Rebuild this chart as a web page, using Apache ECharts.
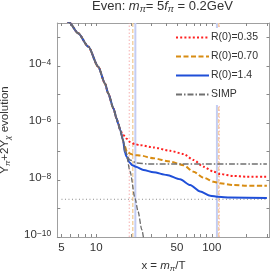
<!DOCTYPE html>
<html><head><meta charset="utf-8">
<script src="https://cdn.jsdelivr.net/npm/echarts@6/dist/echarts.min.js"></script>
<style>html,body{margin:0;padding:0;background:#fff}#c{width:274px;height:278px}</style>
</head><body><div id="c"></div>
<script>
// ---- data (x = m/T, y = Y) ----
const xRange = [4.6, 316];
const yRange = [1e-10, 3.16e-3];
const xTickLabels = [5, 10, 50, 100];
const xTicks = [5,6,7,8,9,10,20,30,40,50,60,70,80,90,100,200,300];
const yTickLabels = [-10, -8, -6, -4];
const yTicks = [-10,-9,-8,-7,-6,-5,-4,-3];

const commonX = [5, 5.8, 6.98, 8.53, 10.4, 11.9, 12.7, 14.1, 15.0, 15.5, 16.1];
const commonY = [6.3e-3, 3.4e-3, 1.38e-3, 4.7e-4, 9.3e-5, 2.4e-5, 1.07e-5, 3.2e-6, 1.41e-6, 9.3e-7, 5.75e-7];

const redX = [16.6, 17.1, 18.3, 19.6, 21.5, 23.9, 31.3, 43.6, 56.9, 69.5, 84.8, 103.5, 118, 154, 200, 300];
const redY = [4.6e-7, 3.8e-7, 2.8e-7, 2.14e-7, 1.8e-7, 1.66e-7, 1.38e-7, 1.05e-7, 8.1e-8, 5.0e-8, 2.9e-8, 1.95e-8, 1.62e-8, 1.38e-8, 1.3e-8, 1.29e-8];

const orangeX = [16.6, 17.4, 18.4, 20, 21.7, 23.9, 31.3, 43.6, 56.9, 69.5, 84.8, 103.5, 118, 154, 200, 300];
const orangeY = [3.6e-7, 1.8e-7, 9.8e-8, 8.1e-8, 7.4e-8, 7.2e-8, 5.75e-8, 4.4e-8, 3.3e-8, 1.95e-8, 1.2e-8, 8.7e-9, 7.6e-9, 6.6e-9, 6.3e-9, 6.2e-9];

const blueX = [17.1, 17.7, 18.4, 19.3, 20.5, 22, 25.6, 31.3, 40.8, 53.2, 65, 79.4, 97, 114, 144, 300];
const blueY = [2.4e-7, 9.0e-8, 6.3e-8, 4.2e-8, 3.3e-8, 2.9e-8, 2.24e-8, 1.86e-8, 1.48e-8, 1.05e-8, 6.6e-9, 3.9e-9, 2.8e-9, 2.57e-9, 2.4e-9, 2.35e-9];

const simpX = [17.1, 17.7, 19.6, 22.4, 28, 300];
const simpY = [2.4e-7, 9.5e-8, 5.0e-8, 3.9e-8, 3.63e-8, 3.63e-8];

const eqX = [17.1, 18, 19.6, 21.7, 23, 24.8, 26];
const eqY = [2.4e-7, 1.05e-7, 2.0e-8, 2.2e-9, 7.9e-10, 1.8e-10, 6.3e-11];

const refLineX = [5, 300];
const refLineY = [2.1e-9, 2.1e-9];

const vLinesX = [19.3, 20.7, 21.8, 110.8, 114.5, 116];
const vLineKinds = ['r', 'o', 'b', 'b', 'o', 'r'];

const names = ['R(0)=0.35', 'R(0)=0.70', 'R(0)=1.4', 'SIMP'];

// ---- build ----
const L = Math.log10;
const pts = (xs, ys) => xs.map((x, i) => [L(x), L(ys[i])]);
const withCommon = (xs, ys) => pts(commonX.concat(xs), commonY.concat(ys));

const vStyles = {
  r: {color: '#f6b0b0', width: 1, type: [1.5, 2]},
  o: {color: '#f3d3a6', width: 1.5, type: [4, 2]},
  b: {color: '#c3cdf3', width: 2, type: 'solid'}
};
const smooth = {smooth: 0.25, smoothMonotone: 'x'};

const series = [];
vLinesX.forEach((x, i) => {
  series.push({type: 'line', silent: true, symbol: 'none', z: 1,
    data: [[L(x), L(yRange[0])], [L(x), L(yRange[1])]],
    lineStyle: vStyles[vLineKinds[i]]});
});
series.push({type: 'line', symbol: 'none', silent: true, z: 2, data: pts(refLineX, refLineY),
  lineStyle: {color: '#8a8a8a', width: 1, type: [1, 2.5]}});
series.push(Object.assign({name: names[0], type: 'line', symbol: 'none', z: 3, data: withCommon(redX, redY),
  lineStyle: {color: '#ff2020', width: 2, type: [2, 2.2]}, itemStyle: {color: '#ff2020'}}, smooth));
series.push(Object.assign({name: names[1], type: 'line', symbol: 'none', z: 3, data: withCommon(orangeX, orangeY),
  lineStyle: {color: '#d88c12', width: 2, type: [5, 2.5]}, itemStyle: {color: '#d88c12'}}, smooth));
series.push(Object.assign({name: names[2], type: 'line', symbol: 'none', z: 3, data: withCommon(blueX, blueY),
  lineStyle: {color: '#1f4fd8', width: 2, type: 'solid'}, itemStyle: {color: '#1f4fd8'}}, smooth));
series.push(Object.assign({name: names[3], type: 'line', symbol: 'none', z: 3, data: withCommon(simpX, simpY),
  lineStyle: {color: '#707070', width: 1.5, type: [6, 2, 1.5, 2]}, itemStyle: {color: '#707070'}}, smooth));
series.push(Object.assign({type: 'line', symbol: 'none', silent: true, z: 3, data: withCommon(eqX, eqY),
  lineStyle: {color: '#6a6a6a', width: 1.3, type: [5, 2]}}, smooth));

const FONT = 'Liberation Sans, Arial, sans-serif';
const frame = {show: true, lineStyle: {color: '#a0a0a0', width: 1}};
const supRich = {
  b: {fontSize: 11.5, fontFamily: FONT, color: '#333', lineHeight: 12, padding: [4, 0, 0, 0], verticalAlign: 'bottom'},
  s: {fontSize: 8.5, fontFamily: FONT, color: '#333', lineHeight: 9, verticalAlign: 'top'}
};
const subRich = (fs) => ({
  n: {fontSize: fs, fontFamily: FONT, fontWeight: 'normal', color: '#333', lineHeight: fs + 1, padding: [0, 0, 2, 0], verticalAlign: 'top'},
  i: {fontSize: fs, fontFamily: FONT, fontWeight: 'normal', fontStyle: 'italic', color: '#333', lineHeight: fs + 1, padding: [0, 0, 2, 0], verticalAlign: 'top'},
  sub: {fontSize: fs * 0.7, fontFamily: FONT, fontWeight: 'normal', fontStyle: 'italic', color: '#333', lineHeight: fs * 0.7 + 1, verticalAlign: 'bottom'}
});

const xMin = L(xRange[0]), xMax = L(xRange[1]);
const yMin = L(yRange[0]), yMax = L(yRange[1]);

const option = {
  animation: false,
  backgroundColor: '#fff',
  title: {
    text: '{n|Even: }{i|m}{sub|π}{n|= 5}{i|f}{sub|π}{n| = 0.2GeV}',
    left: 92, top: 0, padding: 0,
    textStyle: {fontWeight: 'normal', rich: subRich(13)}
  },
  legend: {
    data: names, orient: 'vertical', left: 170, top: 28,
    padding: [4, 6, 5, 5], itemGap: 8, itemWidth: 33, itemHeight: 11,
    backgroundColor: '#fff',
    itemStyle: {opacity: 0},
    textStyle: {fontSize: 10.5, fontFamily: FONT, color: '#333', padding: [0, 0, 0, -3]}
  },
  grid: {left: 57.3, right: 4.5, top: 23, bottom: 41, outerBoundsMode: 'none'},
  xAxis: [{
    type: 'value', min: xMin, max: xMax, position: 'bottom',
    name: '{n|x = }{i|m}{sub|π}{n|/T}', nameLocation: 'middle', nameGap: 23,
    nameTextStyle: {rich: subRich(11.5)},
    axisLine: frame, splitLine: {show: false},
    axisTick: {show: true, inside: true, length: 3, lineStyle: {color: '#888'}, customValues: xTicks.map(L)},
    axisLabel: {customValues: xTickLabels.map(L), margin: 5, fontSize: 11.5, fontFamily: FONT, color: '#333',
      formatter: v => String(Math.round(Math.pow(10, v)))}
  }, {
    type: 'value', min: xMin, max: xMax, position: 'top',
    axisLine: frame, splitLine: {show: false}, axisLabel: {show: false},
    axisTick: {show: true, inside: true, length: 3, lineStyle: {color: '#888'}, customValues: xTicks.map(L)}
  }],
  yAxis: [{
    type: 'value', min: yMin, max: yMax, position: 'left',
    name: '{n|Y}{sub|π}{n|+2Y}{sub|χ}{n| evolution}', nameLocation: 'middle', nameGap: 40,
    nameTextStyle: {rich: subRich(11.5)},
    axisLine: frame, splitLine: {show: false},
    axisTick: {show: true, inside: true, length: 3, lineStyle: {color: '#888'}, customValues: yTicks},
    axisLabel: {customValues: yTickLabels, margin: 6, padding: [0, 0, 4, 0], rich: supRich,
      formatter: v => '{b|10}{s|−' + Math.abs(Math.round(v)) + '}'}
  }, {
    type: 'value', min: yMin, max: yMax, position: 'right',
    axisLine: frame, splitLine: {show: false}, axisLabel: {show: false},
    axisTick: {show: true, inside: true, length: 3, lineStyle: {color: '#888'}, customValues: yTicks}
  }],
  series: series
};
const chart = echarts.init(document.getElementById('c'), null, {renderer: 'canvas'});
chart.setOption(option);
</script></body></html>
